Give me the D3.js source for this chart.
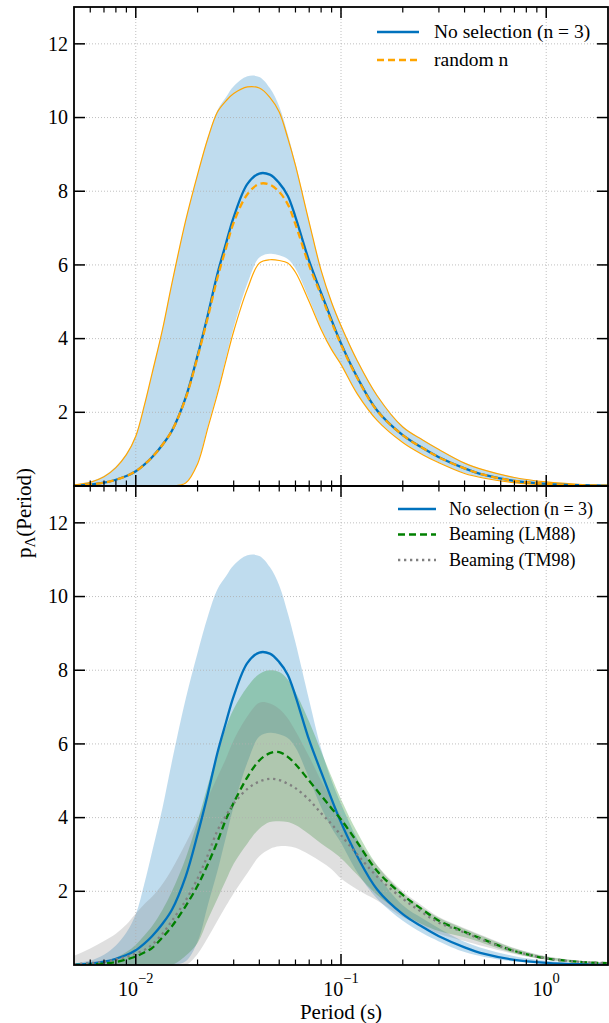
<!DOCTYPE html>
<html><head><meta charset="utf-8">
<script src="https://cdn.jsdelivr.net/npm/d3@7"></script>
<style>body{margin:0;background:#fff} text{font-family:"Liberation Serif","Tinos","Times New Roman",Times,"DejaVu Serif","Noto Serif",serif;}</style>
</head><body><svg id="c" width="609" height="1023"></svg>
<script>
const periods = [0.005,0.006,0.007,0.008,0.009,0.01,0.011,0.012,0.0135,0.015,0.0175,0.02,0.0225,0.025,0.0275,0.03,0.035,0.04,0.045,0.05,0.055,0.06,0.07,0.08,0.09,0.1,0.12,0.15,0.2,0.25,0.3,0.4,0.5,0.7,1,1.5,2];

const noSelMean  = [0.015,0.04,0.09,0.17,0.27,0.4,0.58,0.78,1.12,1.5,2.4,3.54,4.67,5.76,6.58,7.3,8.2,8.48,8.45,8.22,7.88,7.3,6.1,5.24,4.5,3.87,2.95,2.05,1.38,1.03,0.78,0.48,0.3,0.14,0.06,0.02,0.01];
const noSelUpper = [0.04,0.12,0.28,0.53,0.88,1.38,2.2,3.07,4.27,5.52,7.22,8.47,9.48,10.2,10.55,10.85,11.12,11.1,10.8,10.3,9.55,8.75,7.18,5.87,5.0,4.37,3.42,2.47,1.62,1.26,1.0,0.63,0.44,0.24,0.115,0.045,0.018];
const noSelLower = [0,0,0,0,0,0,0,0,0,0,0.1,0.63,1.65,2.55,3.47,4.3,5.5,6.2,6.3,6.26,6.16,5.9,5.06,4.28,3.72,3.32,2.52,1.8,1.2,0.86,0.64,0.35,0.22,0.095,0.032,0.011,0];

const randMean  = [0.015,0.04,0.09,0.17,0.27,0.4,0.58,0.78,1.12,1.5,2.38,3.5,4.6,5.65,6.45,7.15,7.92,8.2,8.18,7.98,7.65,7.1,5.98,5.18,4.45,3.84,2.93,2.04,1.38,1.03,0.78,0.48,0.3,0.14,0.06,0.02,0.01];
const randUpper = [0.03,0.1,0.25,0.5,0.85,1.35,2.18,3.05,4.25,5.5,7.2,8.45,9.45,10.15,10.45,10.65,10.83,10.8,10.55,10.15,9.45,8.7,7.15,5.85,4.98,4.35,3.4,2.45,1.6,1.25,0.99,0.62,0.43,0.23,0.11,0.04,0.015];
const randLower = [0,0,0,0,0,0,0,0,0,0,0.08,0.6,1.6,2.5,3.4,4.2,5.35,6.05,6.14,6.12,6.05,5.8,5.0,4.25,3.7,3.3,2.5,1.78,1.18,0.85,0.63,0.34,0.21,0.09,0.03,0.01,0];

const lm88Mean  = [0,0.01,0.04,0.08,0.15,0.23,0.34,0.46,0.75,1.05,1.6,2.15,2.75,3.35,3.95,4.4,5.1,5.55,5.75,5.78,5.65,5.45,5.0,4.6,4.25,3.95,3.33,2.55,1.9,1.5,1.2,0.9,0.68,0.38,0.18,0.08,0.05];
const lm88Upper = [0,0.02,0.08,0.2,0.35,0.55,0.8,1.05,1.5,2.0,2.9,3.9,4.9,5.75,6.45,6.95,7.55,7.9,8.0,7.95,7.75,7.4,6.6,5.8,5.1,4.5,3.6,2.7,1.95,1.55,1.28,0.98,0.76,0.45,0.23,0.11,0.07];
const lm88Lower = [0,0,0,0,0,0,0,0,0,0,0.25,0.6,1.25,1.8,2.3,2.75,3.3,3.7,3.88,3.9,3.88,3.8,3.55,3.3,3.1,2.9,2.45,1.9,1.4,1.1,0.92,0.75,0.58,0.32,0.15,0.06,0.03];

const tm98Mean  = [0.02,0.05,0.09,0.15,0.22,0.31,0.41,0.55,0.85,1.2,1.75,2.35,3.0,3.65,4.05,4.38,4.78,4.98,5.05,5.02,4.92,4.8,4.48,4.12,3.82,3.52,3.0,2.4,1.8,1.42,1.15,0.88,0.66,0.38,0.18,0.08,0.05];
const tm98Upper = [0.25,0.45,0.65,0.85,1.1,1.4,1.65,1.85,2.2,2.6,3.3,3.95,4.55,5.1,5.6,6.1,6.75,7.12,7.1,6.95,6.7,6.35,5.65,5.0,4.5,4.05,3.4,2.7,2.0,1.6,1.3,1.0,0.78,0.46,0.24,0.11,0.07];
const tm98Lower = [0,0,0,0,0,0,0,0,0,0,0,0.3,0.75,1.2,1.6,1.95,2.5,2.95,3.15,3.22,3.22,3.18,3.0,2.8,2.6,2.35,2.05,1.75,1.3,1.05,0.85,0.65,0.5,0.3,0.14,0.06,0.03];

const xMajorTicks = [0.01, 0.1, 1];
const xTickExp = ["\u22122", "\u22121", "0"];
const yTicks = [2,4,6,8,10,12];
const topLegend = ["No selection (n = 3)", "random n"];
const bottomLegend = ["No selection (n = 3)", "Beaming (LM88)", "Beaming (TM98)"];

const BLUE="#0072BD", ORANGE="#FFA500", GREEN="#008000", GRAY="#808080";

const svg = d3.select("#c");
const X0=74, X1=608;
const x = d3.scaleLog().domain([0.005,2]).range([X0,X1]);
const panels = [{top:7,bottom:486},{top:486,bottom:965}];
const curve = d3.curveCatmullRom.alpha(0.5);

function band(y, up, lo){
  return d3.area().x((d,i)=>x(periods[i])).y0((d,i)=>y(Math.max(0,lo[i]))).y1((d,i)=>y(up[i])).curve(curve)(periods);
}
function line(y, v){
  return d3.line().x((d,i)=>x(periods[i])).y((d,i)=>y(v[i])).curve(curve)(periods);
}

const minorTicks = [];
[0.001,0.01,0.1,1].forEach(d=>{for(let k=2;k<=9;k++){const t=d*k; if(t>0.0051&&t<1.99) minorTicks.push(t);}});

panels.forEach((p,pi)=>{
  const y = d3.scaleLinear().domain([0,13]).range([p.bottom,p.top]);
  const g = svg.append("g");
  const cid = "clip"+pi;
  svg.append("clipPath").attr("id",cid).append("rect").attr("x",X0).attr("y",p.top).attr("width",X1-X0).attr("height",p.bottom-p.top);
  const pg = g.append("g").attr("clip-path",`url(#${cid})`);

  pg.append("path").attr("d",band(y,noSelUpper,noSelLower)).attr("fill",BLUE).attr("fill-opacity",0.25);
  if(pi===1){
    pg.append("path").attr("d",band(y,lm88Upper,lm88Lower)).attr("fill",GREEN).attr("fill-opacity",0.25);
    pg.append("path").attr("d",band(y,tm98Upper,tm98Lower)).attr("fill",GRAY).attr("fill-opacity",0.25);
  }
  xMajorTicks.forEach(t=>pg.append("line").attr("x1",x(t)).attr("x2",x(t)).attr("y1",p.top).attr("y2",p.bottom).attr("stroke","#b0b0b0").attr("stroke-width",0.8).attr("stroke-dasharray","1,2"));
  yTicks.forEach(t=>pg.append("line").attr("x1",X0).attr("x2",X1).attr("y1",y(t)).attr("y2",y(t)).attr("stroke","#b0b0b0").attr("stroke-width",0.8).attr("stroke-dasharray","1,2"));

  if(pi===0){
    pg.append("path").attr("d",line(y,randUpper)).attr("fill","none").attr("stroke",ORANGE).attr("stroke-width",1.2);
    pg.append("path").attr("d",line(y,randLower)).attr("fill","none").attr("stroke",ORANGE).attr("stroke-width",1.2);
    pg.append("path").attr("d",line(y,noSelMean)).attr("fill","none").attr("stroke",BLUE).attr("stroke-width",2.3);
    pg.append("path").attr("d",line(y,randMean)).attr("fill","none").attr("stroke",ORANGE).attr("stroke-width",2.3).attr("stroke-dasharray","7,4");
  } else {
    pg.append("path").attr("d",line(y,noSelMean)).attr("fill","none").attr("stroke",BLUE).attr("stroke-width",2.3);
    pg.append("path").attr("d",line(y,lm88Mean)).attr("fill","none").attr("stroke",GREEN).attr("stroke-width",2.3).attr("stroke-dasharray","7,4");
    pg.append("path").attr("d",line(y,tm98Mean)).attr("fill","none").attr("stroke",GRAY).attr("stroke-width",2.3).attr("stroke-dasharray","2.3,3.7");
  }

  const tk = g.append("g").attr("stroke","#000");
  xMajorTicks.forEach(t=>{
    tk.append("line").attr("x1",x(t)).attr("x2",x(t)).attr("y1",p.bottom).attr("y2",p.bottom-11).attr("stroke-width",1.5);
    tk.append("line").attr("x1",x(t)).attr("x2",x(t)).attr("y1",p.top).attr("y2",p.top+11).attr("stroke-width",1.5);
  });
  minorTicks.forEach(t=>{
    tk.append("line").attr("x1",x(t)).attr("x2",x(t)).attr("y1",p.bottom).attr("y2",p.bottom-5.5).attr("stroke-width",1.2);
    tk.append("line").attr("x1",x(t)).attr("x2",x(t)).attr("y1",p.top).attr("y2",p.top+5.5).attr("stroke-width",1.2);
  });
  yTicks.forEach(t=>{
    tk.append("line").attr("x1",X0).attr("x2",X0+11).attr("y1",y(t)).attr("y2",y(t)).attr("stroke-width",1.5);
    tk.append("line").attr("x1",X1).attr("x2",X1-11).attr("y1",y(t)).attr("y2",y(t)).attr("stroke-width",1.5);
    g.append("text").attr("x",68).attr("y",y(t)).attr("dy","0.34em").attr("text-anchor","end").attr("font-size",20).text(t);
  });
  g.append("rect").attr("x",X0).attr("y",p.top).attr("width",X1-X0).attr("height",p.bottom-p.top)
    .attr("fill","none").attr("stroke","#000").attr("stroke-width",1.8);

  const items = pi===0 ? [
      {t:topLegend[0],c:BLUE,d:null},{t:topLegend[1],c:ORANGE,d:"7,4"}]
    : [{t:bottomLegend[0],c:BLUE,d:null},{t:bottomLegend[1],c:GREEN,d:"7,4"},{t:bottomLegend[2],c:GRAY,d:"2.3,3.7"}];
  const L = pi===0 ? {x0:377,x1:419,tx:434,y0:32,dy:28,fs:19.5} : {x0:398,x1:436,tx:449,y0:509,dy:25.5,fs:18};
  items.forEach((it,i)=>{
    const yy = L.y0+i*L.dy;
    const ln = g.append("line").attr("x1",L.x0).attr("x2",L.x1).attr("y1",yy).attr("y2",yy).attr("stroke",it.c).attr("stroke-width",2.3);
    if(it.d) ln.attr("stroke-dasharray",it.d);
    g.append("text").attr("x",L.tx).attr("y",yy).attr("dy","0.33em").attr("font-size",L.fs).attr("fill","#000").text(it.t);
  });

  if(pi===1){
    xMajorTicks.forEach((t,i)=>{
      const tx = g.append("text").attr("x",x(t)).attr("y",996).attr("text-anchor","middle").attr("font-size",20);
      tx.append("tspan").text("10");
      tx.append("tspan").attr("dy",-13).attr("font-size",14.5).text(xTickExp[i]);
    });
  }
});

svg.append("text").attr("x",341).attr("y",1019).attr("text-anchor","middle").attr("font-size",21).text("Period (s)");
const yl = svg.append("text").attr("transform","translate(31,513) rotate(-90)").attr("text-anchor","middle").attr("font-size",21);
yl.append("tspan").text("p");
yl.append("tspan").attr("font-size",15).attr("dy",4).text("\u039b");
yl.append("tspan").attr("dy",-4).text("(Period)");
</script></body></html>
